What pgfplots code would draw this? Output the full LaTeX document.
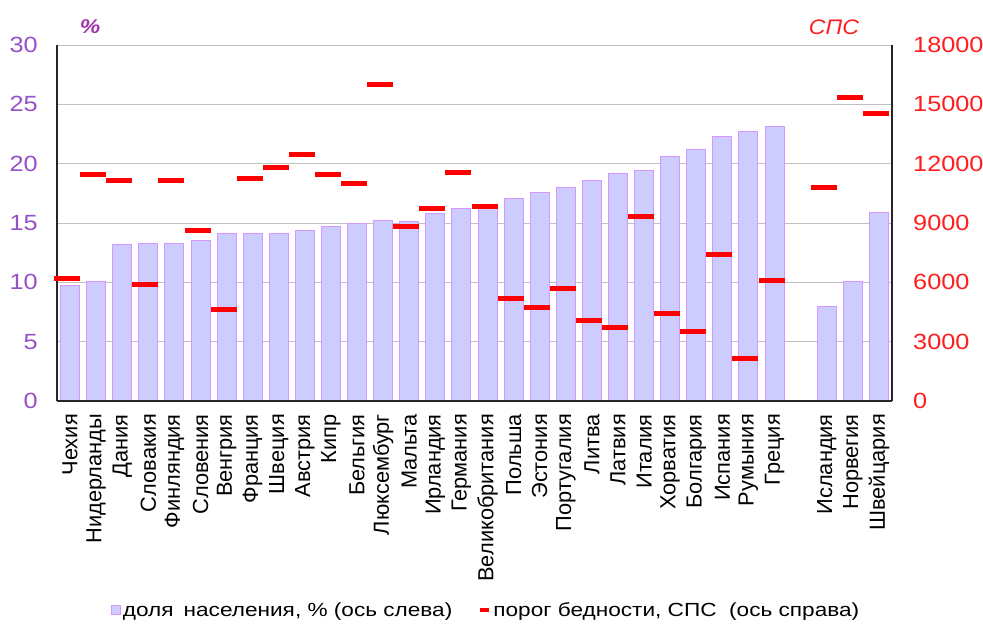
\documentclass[border=0pt]{standalone}
\usepackage{fontspec}
\setmainfont{Liberation Sans}
\usepackage{graphicx}
\usepackage{pgfplots}
\pgfplotsset{compat=1.18}
\definecolor{barfill}{RGB}{204,204,255}
\definecolor{barline}{RGB}{214,150,255}
\definecolor{leftc}{RGB}{150,80,200}
\definecolor{pctc}{RGB}{160,50,170}
\definecolor{rightc}{RGB}{255,30,30}
\definecolor{gridc}{RGB}{192,192,192}
\newcommand{\hs}[1]{\scalebox{1.15}[1]{#1}}
\newcommand{\ls}[1]{\scalebox{1.19}[1]{#1}}
\begin{document}
\begin{tikzpicture}
\useasboundingbox (-57pt,-223pt) rectangle (926pt,401pt);
\begin{axis}[
  at={(0pt,0pt)}, anchor=south west,
  scale only axis, width=835pt, height=356pt,
  xmin=-0.5, xmax=31.5, ymin=0, ymax=30,
  axis x line*=bottom, axis y line*=left,
  axis line style={-, black!85, line width=1.6pt},
  ytick={0,5,...,30}, ymajorgrids,
  major grid style={gridc, line width=1pt},
  major tick length=0pt,
  /pgf/number format/assume math mode=true,
  yticklabel={\hs{\pgfmathprintnumber{\tick}}},
  yticklabel style={font=\fontsize{22}{24}\selectfont, color=leftc, inner sep=0pt, xshift=-19pt},
  xtick={0,1,...,27,29,30,31},
  xticklabels={Чехия,Нидерланды,Дания,Словакия,Финляндия,Словения,Венгрия,Франция,Швеция,Австрия,Кипр,Бельгия,Люксембург,Мальта,Ирландия,Германия,Великобритания,Польша,Эстония,Португалия,Литва,Латвия,Италия,Хорватия,Болгария,Испания,Румыния,Греция,Исландия,Норвегия,Швейцария},
  xticklabel style={yshift=-13pt, rotate=90, anchor=east, inner sep=0pt, font=\fontsize{21.8}{23}\selectfont},
  ybar, bar width=19pt, bar shift=0pt,
  after end axis/.code={\draw[black!85, line width=1.6pt] (rel axis cs:0,0) -- (rel axis cs:1,0);},
]
\addplot[fill=barfill, draw=barline, line width=1pt] coordinates {
(0,9.7) (1,10.1) (2,13.2) (3,13.3) (4,13.3) (5,13.5) (6,14.1) (7,14.1) (8,14.1) (9,14.4)
(10,14.7) (11,15.0) (12,15.2) (13,15.1) (14,15.8) (15,16.2) (16,16.3) (17,17.1) (18,17.6) (19,18.0)
(20,18.6) (21,19.2) (22,19.4) (23,20.6) (24,21.2) (25,22.3) (26,22.7) (27,23.1)
(29,8.0) (30,10.1) (31,15.9)};
\end{axis}
\begin{axis}[
  at={(0pt,0pt)}, anchor=south west,
  scale only axis, width=835pt, height=356pt,
  xmin=-0.5, xmax=31.5, ymin=0, ymax=18000,
  axis x line=none, axis y line*=right,
  axis line style={-, black!85, line width=1.6pt},
  ytick={0,3000,...,18000}, scaled y ticks=false,
  major tick length=0pt,
  /pgf/number format/assume math mode=true,
  /pgf/number format/1000 sep={},
  yticklabel={\hs{\pgfmathprintnumber{\tick}}},
  yticklabel style={font=\fontsize{22}{24}\selectfont, color=rightc, inner sep=0pt, xshift=21pt, anchor=west},
  clip=false,
  legend columns=2,
  legend style={at={(0.514,-0.587)}, anchor=center, draw=none, fill=none,
    font=\fontsize{19}{21}\selectfont, inner sep=0pt,
    /tikz/every even column/.append style={column sep=24pt}},
]
\addlegendimage{legend image code/.code={\draw[fill=barfill, draw=barline, line width=0.8pt] (0pt,-4.5pt) rectangle (9pt,4.5pt);}}
\addlegendentry{\ls{доля\, населения, \% (ось слева)}}
\addplot[only marks, mark=-, mark size=13pt, color=red,
  mark options={line width=5pt, xshift=-3pt},
  legend image code/.code={\draw[red, line width=4pt] (0pt,0pt) -- (9pt,0pt);}] coordinates {
(0,6170) (1,11440) (2,11170) (3,5900) (4,11170) (5,8610) (6,4620) (7,11260) (8,11810) (9,12440)
(10,11440) (11,10990) (12,15990) (13,8800) (14,9710) (15,11530) (16,9810) (17,5170) (18,4720) (19,5710)
(20,4080) (21,3710) (22,9350) (23,4430) (24,3520) (25,7430) (26,2160) (27,6080)
(29,10800) (30,15350) (31,14550)};
\addlegendentry{\ls{порог бедности, СПС\ \ (ось справа)}}
\end{axis}
\node[text=pctc, font=\fontsize{20}{22}\selectfont\bfseries\itshape] at (33pt,374pt) {\hs{\%}};
\node[text=rightc, font=\fontsize{21}{23}\selectfont\itshape] at (777pt,374pt) {\scalebox{1.1}[1]{СПС}};
\end{tikzpicture}
\end{document}
